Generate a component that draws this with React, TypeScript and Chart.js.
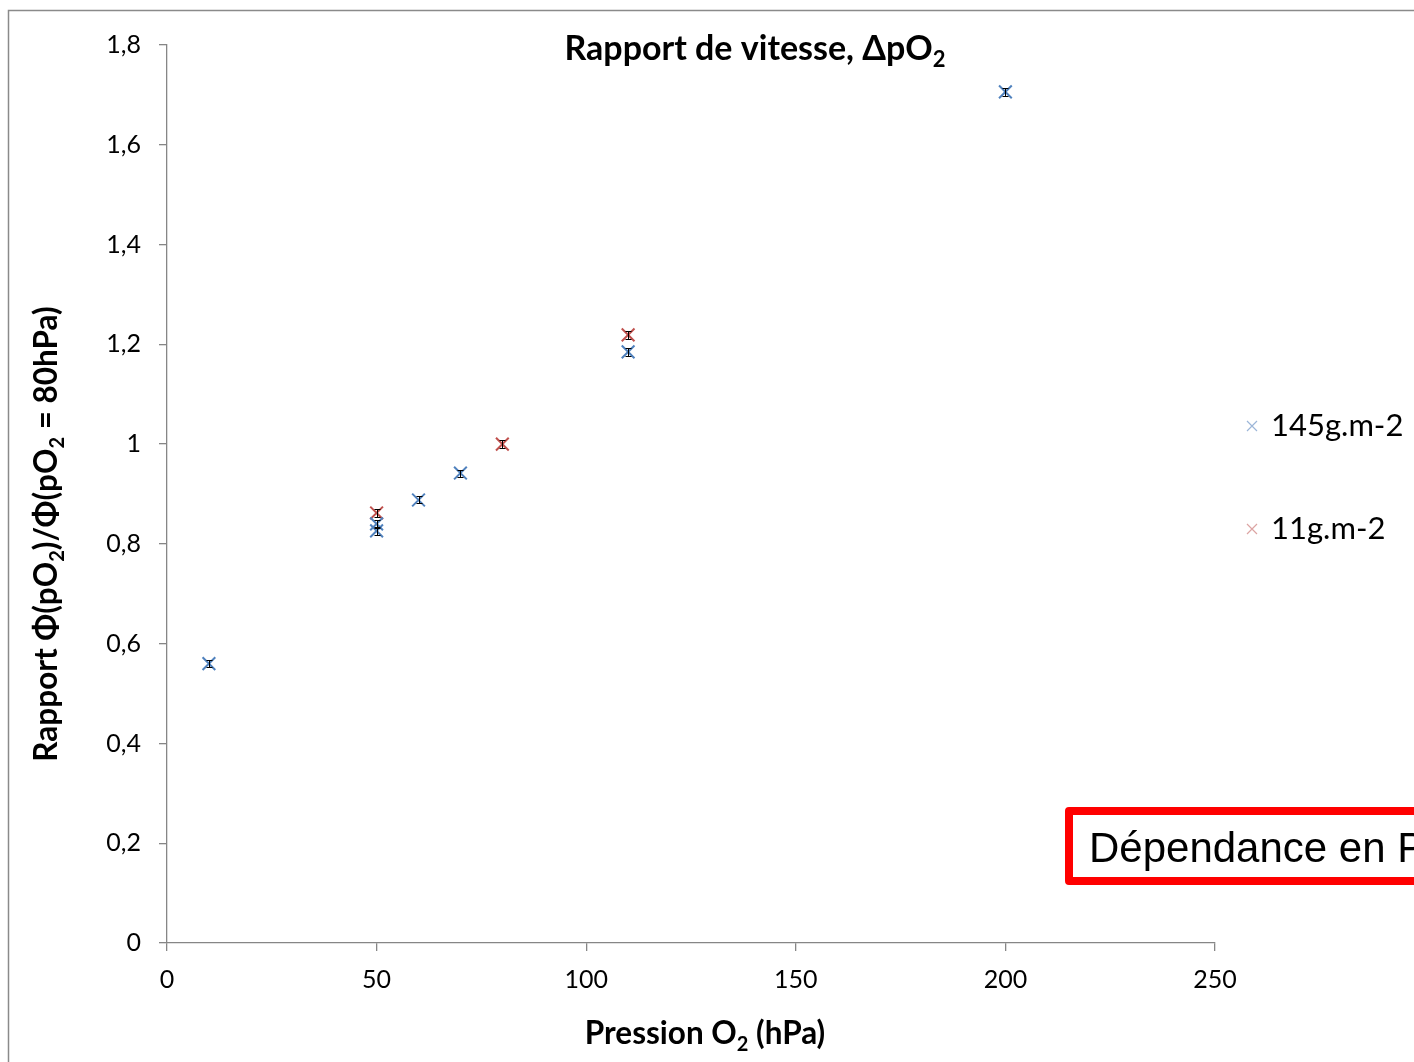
import React, { useEffect, useRef } from "react";
import { Chart, registerables } from "chart.js";
Chart.register(...registerables);

const series145Label = "145g.m-2";
const series145X = [10, 50, 50, 60, 70, 110, 200];
const series145Y = [0.56, 0.84, 0.826, 0.888, 0.942, 1.185, 1.706];
const series145Err = [0.007, 0.008, 0.008, 0.007, 0.007, 0.008, 0.008];

const series11Label = "11g.m-2";
const series11X = [50, 80, 110];
const series11Y = [0.862, 1.0, 1.219];
const series11Err = [0.008, 0.008, 0.008];

const xTickValues = [0, 50, 100, 150, 200, 250];
const xTickLabels = ["0", "50", "100", "150", "200", "250"];
const yTickValues = [0, 0.2, 0.4, 0.6, 0.8, 1.0, 1.2, 1.4, 1.6, 1.8];
const yTickLabels = ["0", "0,2", "0,4", "0,6", "0,8", "1", "1,2", "1,4", "1,6", "1,8"];

const titleSegments = [{ t: "Rapport de vitesse, ΔpO", sub: false }, { t: "2", sub: true }];
const xTitleSegments = [{ t: "Pression O", sub: false }, { t: "2", sub: true }, { t: " (hPa)", sub: false }];
const yTitleSegments = [
  { t: "Rapport Φ(pO", sub: false }, { t: "2", sub: true },
  { t: ")/Φ(pO", sub: false }, { t: "2", sub: true }, { t: " = 80hPa)", sub: false },
];
const noteText = "Dépendance en PO₂";

const BLUE = "#4F81BD";
const RED = "#C0504D";
const FONT = "Lato, 'Open Sans', sans-serif";

type Seg = { t: string; sub: boolean };

function drawRich(ctx: CanvasRenderingContext2D, segs: Seg[], x: number, y: number, size: number, weight: string) {
  const subSize = Math.round(size * 0.65);
  let total = 0;
  const widths = segs.map((s) => {
    ctx.font = `${weight} ${s.sub ? subSize : size}px ${FONT}`;
    const w = ctx.measureText(s.t).width;
    total += w;
    return w;
  });
  let cx = x - total / 2;
  ctx.textAlign = "left";
  ctx.textBaseline = "alphabetic";
  segs.forEach((s, i) => {
    ctx.font = `${weight} ${s.sub ? subSize : size}px ${FONT}`;
    ctx.fillText(s.t, cx, s.sub ? y + size * 0.22 : y);
    cx += widths[i];
  });
}

const decorPlugin = {
  id: "decor",
  afterDatasetsDraw(chart: any) {
    const ctx = chart.ctx as CanvasRenderingContext2D;
    const xs = chart.scales.x;
    const ys = chart.scales.y;
    ctx.save();
    ctx.strokeStyle = "#000";
    ctx.lineWidth = 1;
    chart.data.datasets.forEach((ds: any) => {
      ds.data.forEach((p: any, i: number) => {
        const e = ds.errors[i];
        const px = Math.round(xs.getPixelForValue(p.x)) + 0.5;
        const y1 = Math.round(ys.getPixelForValue(p.y + e)) + 0.5;
        const y2 = Math.round(ys.getPixelForValue(p.y - e)) + 0.5;
        ctx.beginPath();
        ctx.moveTo(px, y1); ctx.lineTo(px, y2);
        ctx.moveTo(px - 3, y1); ctx.lineTo(px + 3, y1);
        ctx.moveTo(px - 3, y2); ctx.lineTo(px + 3, y2);
        ctx.stroke();
      });
    });
    ctx.restore();
  },
  afterDraw(chart: any) {
    const ctx = chart.ctx as CanvasRenderingContext2D;
    ctx.save();
    ctx.strokeStyle = "#8a8a8a";
    ctx.lineWidth = 1.5;
    ctx.beginPath();
    ctx.moveTo(8.5, 1062);
    ctx.lineTo(8.5, 10.5);
    ctx.lineTo(1414, 10.5);
    ctx.stroke();

    ctx.fillStyle = "#000";
    drawRich(ctx, titleSegments, 755, 60, 34, "bold");
    drawRich(ctx, xTitleSegments, 705, 1044, 31.5, "bold");
    ctx.save();
    ctx.translate(57, 534);
    ctx.rotate(-Math.PI / 2);
    drawRich(ctx, yTitleSegments, 0, 0, 31.5, "bold");
    ctx.restore();

    const legendY = [426, 529];
    chart.data.datasets.forEach((ds: any, i: number) => {
      const y = legendY[i];
      ctx.strokeStyle = ds.legendColor;
      ctx.lineWidth = 1.2;
      ctx.beginPath();
      ctx.moveTo(1247, y - 5); ctx.lineTo(1257, y + 5);
      ctx.moveTo(1247, y + 5); ctx.lineTo(1257, y - 5);
      ctx.stroke();
      ctx.fillStyle = "#000";
      ctx.font = `normal 31px ${FONT}`;
      ctx.textAlign = "left";
      ctx.textBaseline = "middle";
      ctx.fillText(ds.label, 1271, y);
    });

    ctx.strokeStyle = "#ff0000";
    ctx.lineWidth = 8;
    ctx.lineJoin = "round";
    ctx.beginPath();
    ctx.moveTo(1500, 811);
    ctx.lineTo(1069, 811);
    ctx.lineTo(1069, 881);
    ctx.lineTo(1500, 881);
    ctx.stroke();
    ctx.fillStyle = "#000";
    ctx.font = `normal 42px 'Liberation Sans', Arial, sans-serif`;
    ctx.textAlign = "left";
    ctx.textBaseline = "alphabetic";
    ctx.fillText(noteText, 1089, 862);
    ctx.restore();
  },
};

export default function App() {
  const ref = useRef<HTMLCanvasElement | null>(null);
  useEffect(() => {
    if (!ref.current) return;
    const chart = new Chart(ref.current, {
      type: "scatter",
      data: {
        datasets: [
          {
            label: series145Label,
            data: series145X.map((x, i) => ({ x, y: series145Y[i] })),
            errors: series145Err,
            legendColor: "#9cb6d8",
            pointStyle: "crossRot",
            pointRadius: 9,
            pointBorderWidth: 2,
            borderColor: BLUE,
            backgroundColor: BLUE,
          } as any,
          {
            label: series11Label,
            data: series11X.map((x, i) => ({ x, y: series11Y[i] })),
            errors: series11Err,
            legendColor: "#dca4a3",
            pointStyle: "crossRot",
            pointRadius: 9,
            pointBorderWidth: 2,
            borderColor: RED,
            backgroundColor: RED,
          } as any,
        ],
      },
      options: {
        responsive: false,
        animation: false,
        devicePixelRatio: 1,
        layout: { padding: { left: 0, right: 199, top: 45, bottom: 0 } },
        plugins: { legend: { display: false }, title: { display: false }, tooltip: { enabled: false } },
        scales: {
          x: {
            type: "linear",
            min: 0,
            max: 250,
            afterBuildTicks: (s: any) => { s.ticks = xTickValues.map((v) => ({ value: v })); },
            afterFit: (s: any) => { s.height = 119; },
            ticks: {
              callback: (_v: any, i: number) => xTickLabels[i],
              color: "#000",
              font: { family: FONT, size: 25 },
              padding: 14,
              maxRotation: 0,
            },
            grid: { display: true, drawOnChartArea: false, drawTicks: true, tickLength: 8, color: "#868686", lineWidth: 1.3 },
            border: { display: true, color: "#868686", width: 1.3 },
          },
          y: {
            type: "linear",
            min: 0,
            max: 1.8,
            afterBuildTicks: (s: any) => { s.ticks = yTickValues.map((v) => ({ value: v })); },
            afterFit: (s: any) => { s.width = 167; },
            ticks: {
              callback: (_v: any, i: number) => yTickLabels[i],
              color: "#000",
              font: { family: FONT, size: 25 },
              padding: 18,
            },
            grid: { display: true, drawOnChartArea: false, drawTicks: true, tickLength: 8, color: "#868686", lineWidth: 1.3 },
            border: { display: true, color: "#868686", width: 1.3 },
          },
        },
      },
      plugins: [decorPlugin],
    } as any);
    return () => chart.destroy();
  }, []);
  return (
    <div style={{ position: "fixed", left: 0, top: 0, width: 1414, height: 1062, overflow: "hidden", background: "#fff" }}>
      <canvas ref={ref} width={1414} height={1062} style={{ display: "block", width: 1414, height: 1062 }} />
    </div>
  );
}
